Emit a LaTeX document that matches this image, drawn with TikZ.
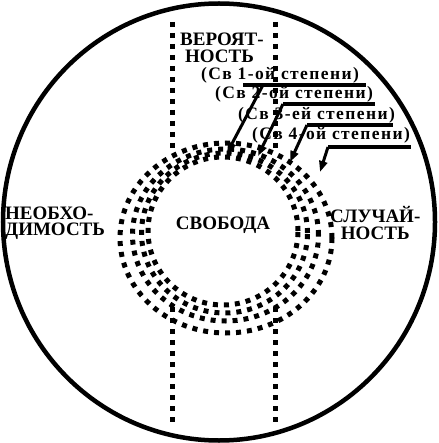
\documentclass[tikz,border=0pt]{standalone}
\usepackage{fontspec}
\setmainfont{Liberation Serif}
\newfontfamily\degfont[LetterSpace=8]{Liberation Serif}
\usetikzlibrary{arrows.meta}

\begin{document}
\begin{tikzpicture}[
  x=1pt, y=-1pt,
  capt/.style = {font=\bfseries\fontsize{19}{16.5}\selectfont,
                 inner sep=0pt, align=#1},
  capt/.default = left,
  deg/.style  = {font=\degfont\bfseries\fontsize{17.5}{18}\selectfont,
                 inner sep=0pt, anchor=base west},
  dots/.style = {line width=5pt, dash pattern=on 5pt off 6pt},
  rim/.style  = {line width=4.5pt},
  bar/.style  = {line width=3.5pt},
  lead/.style = {line width=3pt, -{Triangle[length=11pt,width=8pt]}},
]
\useasboundingbox (0,0) rectangle (438,443);

%% ── OUTER CIRCLE ────────────────────────────────────────────────────────
\coordinate (mid) at (219,222);
\draw[rim] (mid) ellipse [x radius=216pt, y radius=218.5pt];

%% ── DEGREE RINGS ────────────────────────────────────────────────────────
\coordinate (c1) at (223,231);
\coordinate (c2) at (224.5,233);
\coordinate (c3) at (225.5,235);
\coordinate (c4) at (226,238);
\draw[dots] (c1) ellipse [x radius=75pt,   y radius=74pt];
\draw[dots] (c2) ellipse [x radius=83pt,   y radius=80pt];
\draw[dots] (c3) ellipse [x radius=93pt,   y radius=86pt];
\draw[dots] (c4) ellipse [x radius=106pt,  y radius=95pt];

%% ── VERTICAL STRIPS ─────────────────────────────────────────────────────
\coordinate (lt) at (172,22);  \coordinate (lm) at (172,152);
\coordinate (rt) at (275,22);  \coordinate (rm) at (275,150);
\coordinate (lb) at (172,307); \coordinate (le) at (172,425);
\coordinate (rb) at (275,307); \coordinate (re) at (275,425);
\draw[dots] (lt) -- (lm);
\draw[dots] (rt) -- (rm);
\draw[dots] (lb) -- (le);
\draw[dots] (rb) -- (re);

%% ── MAIN LABELS ─────────────────────────────────────────────────────────
\node[capt, anchor=west] (prob) at (180,48)
  {ВЕРОЯТ-\\\hspace*{5pt}НОСТЬ};
\node[capt, anchor=west] (need) at (5,223)  {НЕОБХО-\\ДИМОСТЬ};
\node[capt=center, anchor=west] (chance) at (330,223) {СЛУЧАЙ-\\НОСТЬ};
\node[capt, anchor=base] (free) at (223,229) {СВОБОДА};

%% ── DEGREE CALLOUTS ─────────────────────────────────────────────────────
\node[deg] (d1) at (201,80)  {(Св 1-ой степени)};
\node[deg] (d2) at (215,99)  {(Св 2-ой степени)};
\node[deg] (d3) at (238,120) {(Св 3-ей степени)};
\node[deg] (d4) at (252,140) {(Св 4-ой степени)};

\coordinate (u1s) at (243,85);  \coordinate (u1e) at (366,85);
\coordinate (u2s) at (283,104); \coordinate (u2e) at (375,104);
\coordinate (u3s) at (307,125); \coordinate (u3e) at (393,125);
\coordinate (u4s) at (328,147); \coordinate (u4e) at (411,147);
\coordinate (k1) at (263,85);
\coordinate (t1) at (227,153);
\coordinate (t2) at (258,156);
\coordinate (t3) at (290,162);
\coordinate (t4) at (320,172);

\draw[bar] (u1s) -- (u1e);
\draw[bar] (u2s) -- (u2e);
\draw[bar] (u3s) -- (u3e);
\draw[bar] (u4s) -- (u4e);
\draw[lead] (k1)  -- (t1);
\draw[lead] (u2s) -- (t2);
\draw[lead] (u3s) -- (t3);
\draw[lead] (u4s) -- (t4);

\end{tikzpicture}
\end{document}
